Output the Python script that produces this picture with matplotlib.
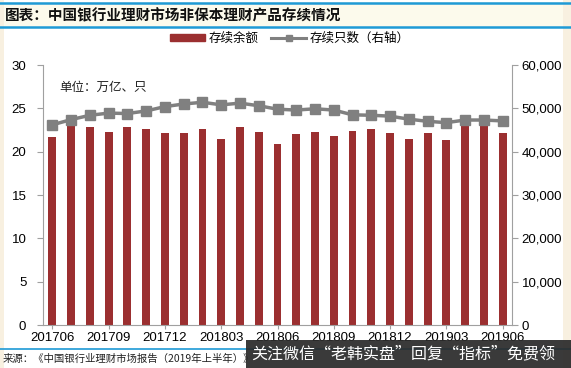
import matplotlib
matplotlib.use("Agg")
import matplotlib.pyplot as plt
from matplotlib.patches import Rectangle
from matplotlib.lines import Line2D
from matplotlib.ticker import FuncFormatter

plt.rcParams['font.family'] = ['Liberation Sans', 'Noto Sans CJK SC', 'DejaVu Sans']

months = ['201706', '201707', '201708', '201709', '201710', '201711', '201712',
          '201801', '201802', '201803', '201804', '201805', '201806', '201807',
          '201808', '201809', '201810', '201811', '201812', '201901', '201902',
          '201903', '201904', '201905', '201906']
balance = [21.7, 23.0, 22.8, 22.3, 22.8, 22.65, 22.15, 22.15, 22.6, 21.5, 22.8,
           22.3, 20.9, 22.0, 22.3, 21.85, 22.4, 22.65, 22.1, 21.5, 22.1, 21.35,
           23.0, 23.3, 22.15]
counts = [46200, 47400, 48400, 48900, 48800, 49400, 50400, 51000, 51400, 50800,
          51200, 50600, 49800, 49600, 49900, 49600, 48500, 48400, 48200, 47500,
          47000, 46700, 47300, 47300, 47100]
left_ticks = [0, 5, 10, 15, 20, 25, 30]
right_ticks = [0, 10000, 20000, 30000, 40000, 50000, 60000]

bar_color = '#9B2F30'
line_color = '#808080'
cjk = ['Noto Sans CJK SC', 'DejaVu Sans']

fig = plt.figure(figsize=(5.71, 3.68), dpi=100)
fig.patch.set_facecolor('white')

# title band
fig.patches.append(Rectangle((0, 1 - 27 / 368), 1, 25 / 368, transform=fig.transFigure,
                             facecolor='#FCFAEC', edgecolor='none', zorder=0))
fig.lines.append(Line2D([0, 1], [1 - 2.5 / 368] * 2, transform=fig.transFigure,
                        color='#1E9AD6', lw=1.8))
fig.lines.append(Line2D([0, 1], [1 - 27 / 368] * 2, transform=fig.transFigure,
                        color='#1E9AD6', lw=1.8))
fig.text(5 / 571, 1 - 15 / 368, '图表：中国银行业理财市场非保本理财产品存续情况',
         family=cjk, fontsize=10.5, fontweight='bold', style='italic',
         va='center', ha='left', color='#111111')

ax = fig.add_axes([43 / 571, 1 - 325 / 368, 469 / 571, 260 / 368])
ax2 = ax.twinx()
ax.set_zorder(1)
ax2.set_zorder(2)
ax.patch.set_visible(False)
ax2.patch.set_visible(False)

x = list(range(len(months)))
ax.bar(x, balance, width=0.42, color=bar_color, zorder=2)
ax2.plot(x, counts, color=line_color, lw=2.5, marker='s', markersize=7,
         markerfacecolor=line_color, markeredgecolor=line_color, zorder=3)

ax.set_xlim(-0.5, len(months) - 0.5)
ax.set_ylim(0, 30)
ax2.set_ylim(0, 60000)
ax.set_yticks(left_ticks)
ax2.set_yticks(right_ticks)
ax2.yaxis.set_major_formatter(FuncFormatter(lambda v, p: f'{int(v):,}'))
ax.set_xticks(x[::3])
ax.set_xticklabels(months[::3])

for a in (ax, ax2):
    a.spines['top'].set_visible(False)
    a.spines['left'].set_color('#A0A0A0')
    a.spines['right'].set_color('#A0A0A0')
    a.spines['bottom'].set_color('#A0A0A0')
ax.spines['right'].set_visible(False)
ax2.spines['left'].set_visible(False)
ax2.spines['bottom'].set_visible(False)

ax.tick_params(axis='y', direction='out', length=4, color='#A0A0A0', labelsize=9.5, pad=8)
ax2.tick_params(axis='y', direction='out', length=4, color='#A0A0A0', labelsize=9.5, pad=3)
ax.tick_params(axis='x', direction='out', length=3, color='#A0A0A0', labelsize=9.5, pad=2)

ax.text(0.035, 0.915, '单位：万亿、只', transform=ax.transAxes, family=cjk,
        fontsize=9, ha='left', va='center', color='#222222')

handles = [Rectangle((0, 0), 1, 1, color=bar_color),
           Line2D([], [], color=line_color, lw=2.2, marker='s', markersize=5)]
fig.legend(handles, ['存续余额', '存续只数（右轴）'], loc='center',
           bbox_to_anchor=(290 / 571, 1 - 38 / 368), ncol=2, frameon=False,
           prop={'family': cjk, 'size': 9}, handlelength=2.8, handleheight=0.5,
           columnspacing=1.0, handletextpad=0.3)

# bottom source line
fig.lines.append(Line2D([0, 1], [1 - 349 / 368] * 2, transform=fig.transFigure,
                        color='#1E9AD6', lw=1.2))
fig.text(3 / 571, 1 - 359 / 368, '来源：《中国银行业理财市场报告（2019年上半年）》',
         family=cjk, fontsize=7.5, va='center', ha='left', color='#222222')

# watermark banner
fig.patches.append(Rectangle((246 / 571, 0), 1 - 246 / 571, 28 / 368,
                             transform=fig.transFigure, facecolor='#2B2B2B',
                             edgecolor='none', alpha=0.93, zorder=10))
fig.text(251 / 571, 1 - 354 / 368, '关注微信“老韩实盘”回复“指标”免费领',
         family=cjk, fontsize=11.5, va='center', ha='left', color='white', zorder=11)

# beige side strips
fig.patches.append(Rectangle((0, 0), 4 / 571, 1, transform=fig.transFigure,
                             facecolor='#F8F0E0', edgecolor='none', zorder=0))
fig.patches.append(Rectangle((1 - 8 / 571, 0), 8 / 571, 1, transform=fig.transFigure,
                             facecolor='#F8F0E0', edgecolor='none', zorder=0))

fig.savefig('out.png', dpi=100)
